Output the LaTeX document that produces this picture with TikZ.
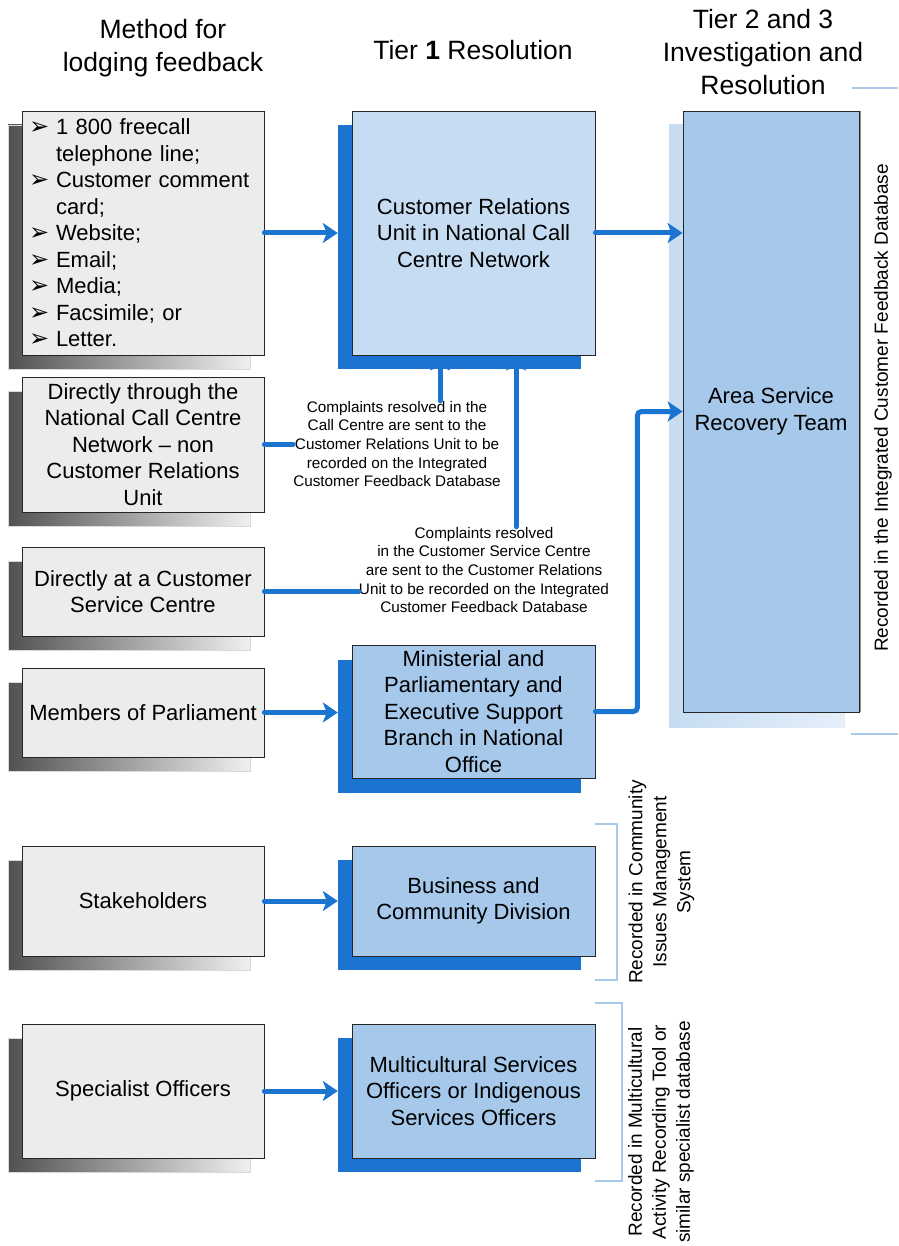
\documentclass[tikz,border=0pt]{standalone}
\usepackage{fontspec}
\setmainfont{Liberation Sans}
\newfontfamily\symfont{DejaVu Sans}
\usetikzlibrary{arrows.meta,calc}

\definecolor{boxgrey}{HTML}{EBECEC}
\definecolor{paleblue}{HTML}{C6DCF2}
\definecolor{midblue}{HTML}{A6C8EB}
\definecolor{deepblue}{HTML}{1B75D0}
\definecolor{rulecol}{HTML}{A9C9EA}

\newcommand\boxfont{\fontsize{22}{26.5}\selectfont}
\newcommand\headfont{\fontsize{26.5}{33}\selectfont}
\newcommand\notefont{\fontsize{15.3}{18.7}\selectfont}
\newcommand\sidefont{\fontsize{19}{24}\selectfont}
\newcommand\bul{\makebox[27pt][l]{\symfont\fontsize{24}{24}\selectfont ➢}}
\newcommand\cont{\hspace*{27pt}}

\tikzset{
  greyshadow/.style={minimum width=242pt, inner sep=0pt, draw=black!15,
    left color=black!68, right color=black!6},
  greybox/.style={minimum width=242pt, inner sep=0pt, draw=black!85,
    line width=0.8pt, fill=boxgrey, align=center, font=\boxfont},
  blueshadow/.style={minimum width=243pt, inner sep=0pt, fill=deepblue},
  bluebox/.style={minimum width=243pt, inner sep=0pt, draw=black!85,
    line width=0.8pt, fill=midblue, align=center, font=\boxfont},
  arr/.style={draw=deepblue, line width=5pt, line cap=round,
    -{Stealth[length=15pt,width=20pt,inset=4pt]}},
  link/.style={draw=deepblue, line width=5pt, line cap=round},
  note/.style={font=\notefont, align=center, inner sep=0pt},
  heading/.style={font=\headfont, align=center, inner sep=0pt},
  sidenote/.style={font=\sidefont, align=center, inner sep=0pt, rotate=90},
  bracket/.style={draw=rulecol, line width=1.3pt},
}

\begin{document}
\begin{tikzpicture}[x=1pt,y=-1pt]
\useasboundingbox (0,0) rectangle (898,1246);
\fill[white] (0,0) rectangle (898,1246);

% column headings
\node[heading] (h1) at (163,48) {Method for\\lodging feedback};
\node[heading] (h2) at (473,50) {Tier \textbf{1} Resolution};
\node[heading] (h3) at (763,52) {Tier 2 and 3\\Investigation and\\Resolution};

% shadows of the feedback channel boxes
\node[greyshadow, minimum height=244pt] (b1s) at (129,247)    {};
\node[greyshadow, minimum height=135pt] (b2s) at (129,458.5)  {};
\node[greyshadow, minimum height=89pt]  (b3s) at (129,605.5)  {};
\node[greyshadow, minimum height=89pt]  (b4s) at (129,726.5)  {};
\node[greyshadow, minimum height=110pt] (b5s) at (129,915)    {};
\node[greyshadow, minimum height=134pt] (b6s) at (129,1105)   {};

% feedback channels
\node[greybox, minimum height=244pt, text width=228pt, align=left, inner xsep=7pt] (b1) at (143,233)
  {\bul 1 800 freecall\\\cont telephone line;\\\bul Customer comment\\\cont card;\\\bul Website;\\\bul Email;\\\bul Media;\\\bul Facsimile; or\\\bul Letter.};
\node[greybox, minimum height=135pt] (b2) at (143,444.5)
  {Directly through the\\National Call Centre\\Network -- non\\Customer Relations\\Unit};
\node[greybox, minimum height=89pt] (b3) at (143,591.5) {Directly at a Customer\\Service Centre};
\node[greybox, minimum height=89pt] (b4) at (143,712.5) {Members of Parliament};
\node[greybox, minimum height=110pt] (b5) at (143,901) {Stakeholders};
\node[greybox, minimum height=134pt] (b6) at (143,1091) {Specialist Officers};

% tier 1 boxes
\node[blueshadow, minimum height=244pt] (crus) at (459.5,247) {};
\node[blueshadow, minimum height=133pt] (mins) at (459.5,726) {};
\node[blueshadow, minimum height=110pt] (bcds) at (459.5,915) {};
\node[blueshadow, minimum height=134pt] (msos) at (459.5,1105) {};

\node[bluebox, fill=paleblue, minimum height=244pt] (cru) at (473.5,233)
  {Customer Relations\\Unit in National Call\\Centre Network};
\node[bluebox, minimum height=133pt] (min) at (473.5,711.5)
  {Ministerial and\\Parliamentary and\\Executive Support\\Branch in National\\Office};
\node[bluebox, minimum height=110pt] (bcd) at (473.5,901)
  {Business and\\Community Division};
\node[bluebox, minimum height=134pt] (mso) at (473.5,1091)
  {Multicultural Services\\Officers or Indigenous\\Services Officers};

% tier 2 and 3 box
\node[minimum width=176pt, minimum height=602pt, inner sep=0pt,
      left color=paleblue, right color=paleblue!45] (asrts) at (757,426) {};
\node[bluebox, minimum width=176pt, minimum height=601pt] (asrt) at (771,411.5)
  {Area Service\\Recovery Team};
\draw[black!45, line width=1.2pt] ([xshift=1pt]asrt.north east) -- ([xshift=1pt]asrt.south east);

% notes on complaints resolved elsewhere
\node[note] (n1) at (397,444)
  {Complaints resolved in the\\Call Centre are sent to the\\Customer Relations Unit to be\\recorded on the Integrated\\Customer Feedback Database};
\node[note] (n2) at (484,570)
  {Complaints resolved\\in the Customer Service Centre\\are sent to the Customer Relations\\Unit to be recorded on the Integrated\\Customer Feedback Database};

% connectors
\draw[arr] (b1.east) -- (b1.east -| crus.west);
\draw[arr] (b4.east) -- (b4.east -| mins.west);
\draw[arr] (b5.east) -- (b5.east -| bcds.west);
\draw[arr] (b6.east) -- (b6.east -| msos.west);
\draw[arr] (cru.east) -- (cru.east -| asrt.west);
\draw[arr, rounded corners=4pt] (min.east) -- ++(42,0) |- (asrt.west);
\draw[link] (b2.east) -- (b2.east -| n1.west);
\draw[link] (b3.east) -- (b3.east -| n2.west);
\draw[arr] ([xshift=43pt]n1.north) -- ([xshift=43pt]n1.north |- cru.south);
\draw[arr] ([xshift=32pt]n2.north) -- ([xshift=32pt]n2.north |- cru.south);

% database brackets and labels
\draw[bracket] (852,88) -- (898,88);
\draw[bracket] (851,734) -- (898,734);
\node[sidenote] (l1) at (883,408) {Recorded in the Integrated Customer Feedback Database};

\draw[bracket] (bcd.east |- 0,824) -- (617,824) -- (617,980) -- (bcd.east |- 0,980);
\node[sidenote] (l2) at (661.5,882) {Recorded in Community\\Issues Management\\System};

\draw[bracket] (mso.east |- 0,1003) -- (622,1003) -- (622,1181) -- (mso.east |- 0,1181);
\node[sidenote] (l3) at (661,1132) {Recorded in Multicultural\\Activity Recording Tool or\\similar specialist database};
\end{tikzpicture}
\end{document}
